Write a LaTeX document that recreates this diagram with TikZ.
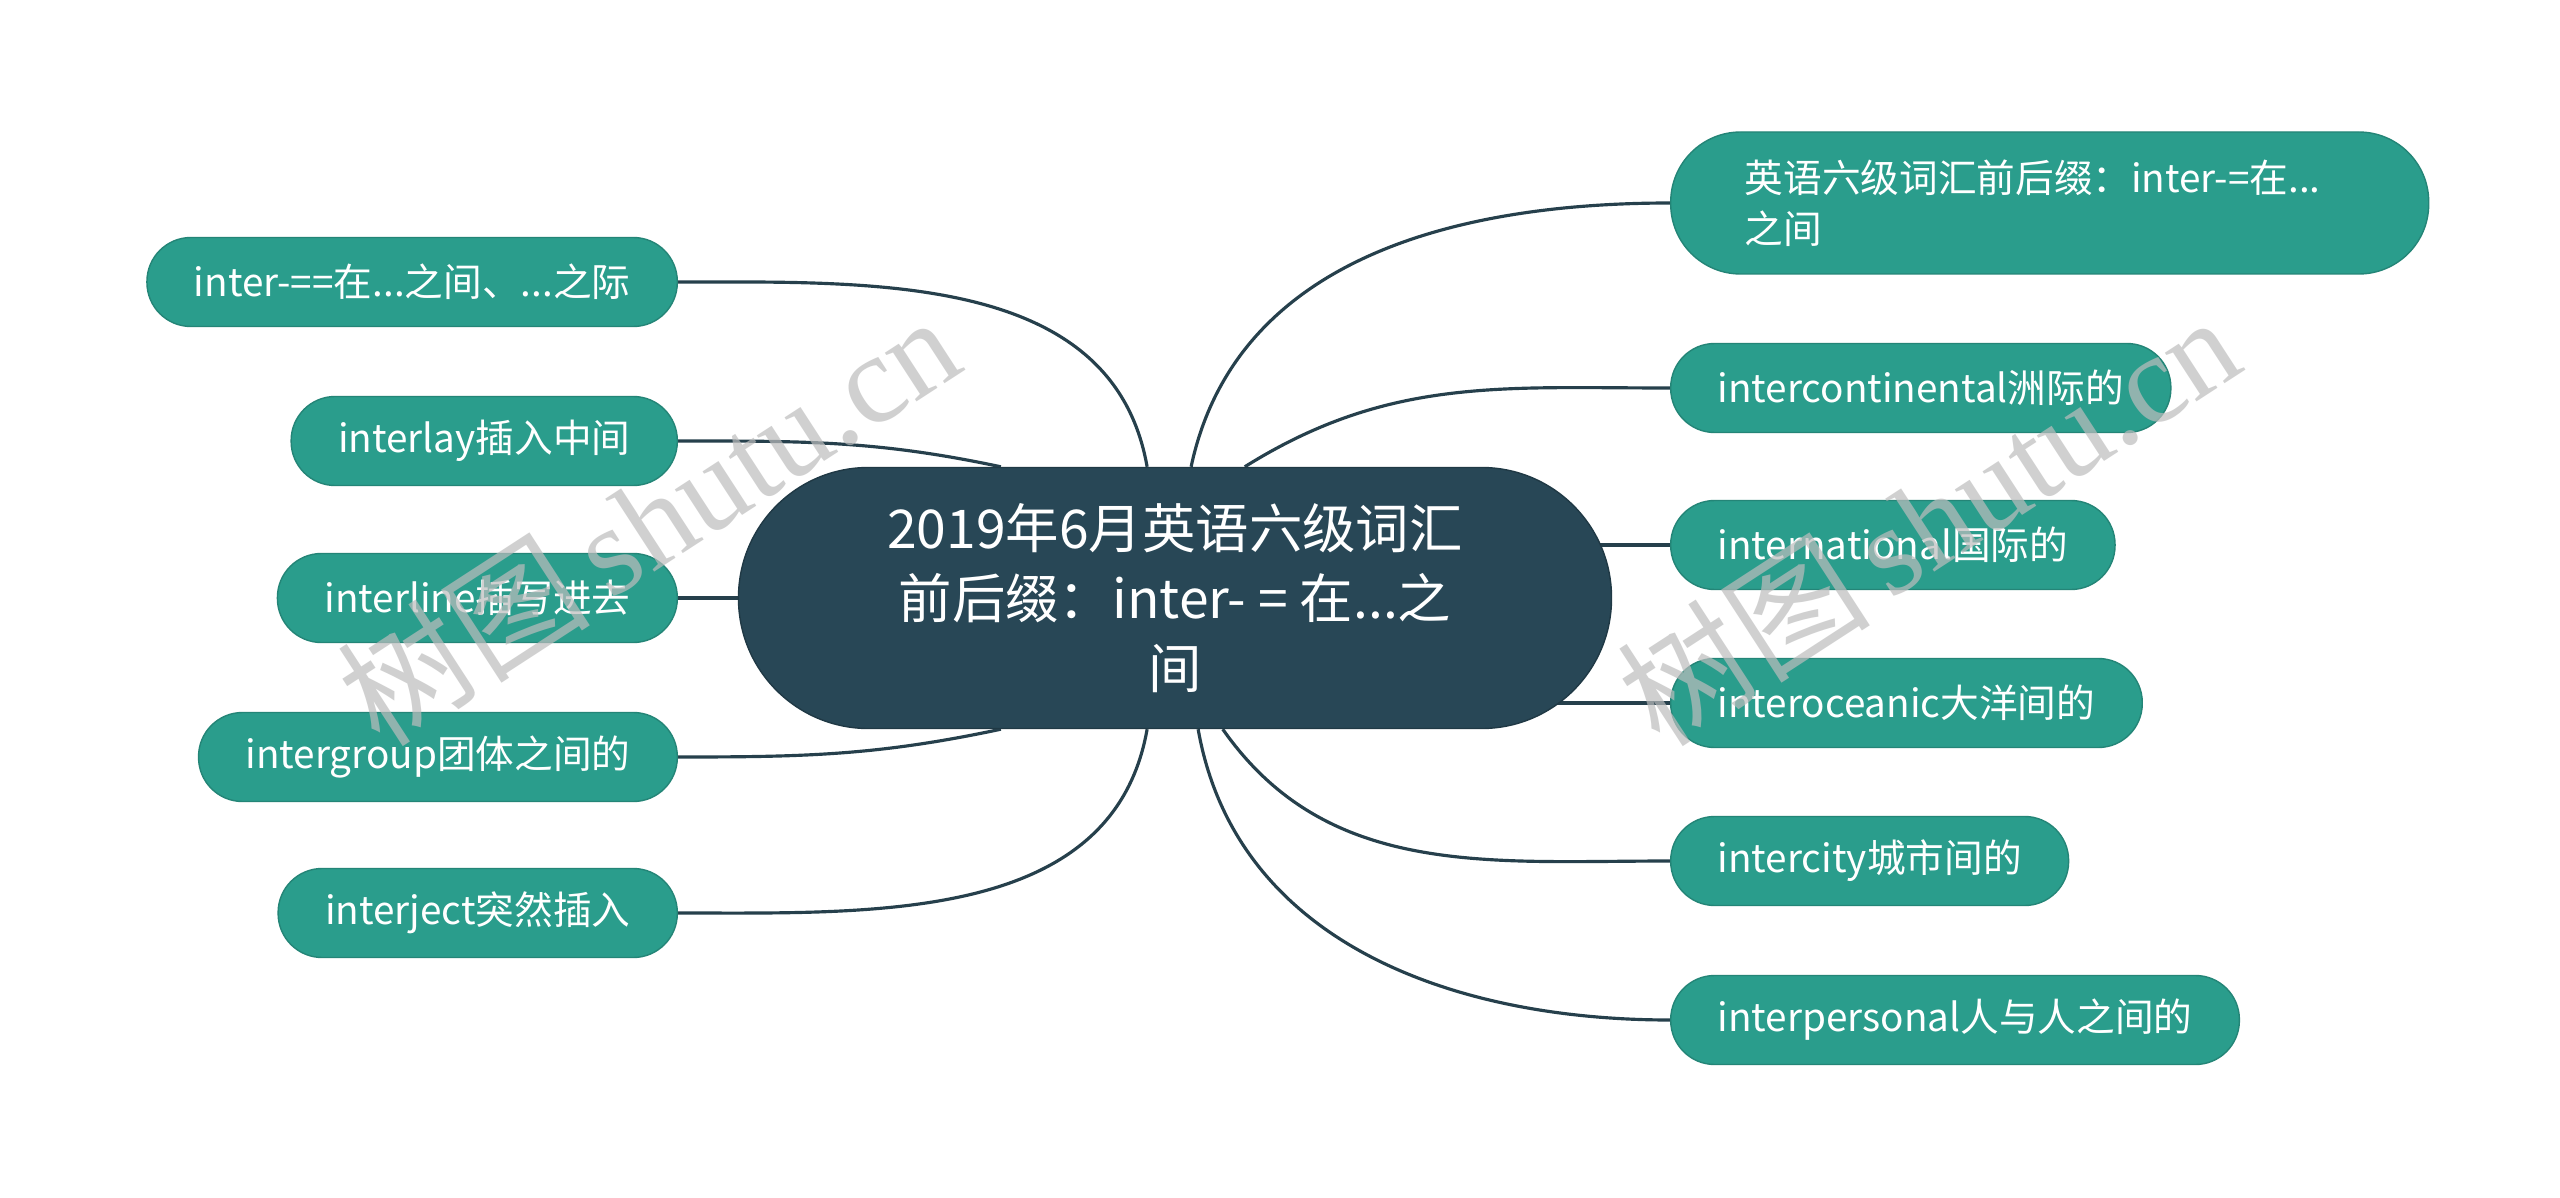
\documentclass[tikz,border=0pt]{standalone}
\usepackage{fontspec}
\setmainfont{Noto Sans CJK SC}
\newfontfamily\wmserif{Liberation Serif}
\usetikzlibrary{backgrounds}
\definecolor{mmteal}{HTML}{2A9D8C}
\definecolor{mmnavy}{HTML}{284756}
\definecolor{mmline}{HTML}{26404C}
\definecolor{mmwater}{HTML}{BDBDBD}

\begin{document}
\begin{tikzpicture}[
  x=1cm, y=1cm,
  font=\fontsize{11pt}{14.5pt}\selectfont,
  line cap=round,
  leaf/.style={rectangle, rounded corners=0.44cm, fill=mmteal, draw=mmteal!85!black,
    line width=0.4pt, text=white, minimum height=0.89cm, inner xsep=0.47cm, inner ysep=0pt},
  hub/.style={rectangle, rounded corners=1.3cm, fill=mmnavy, draw=mmnavy!80!black,
    line width=0.4pt, text=white, minimum width=8.73cm, minimum height=2.61cm,
    align=center, font=\fontsize{15.2pt}{20pt}\selectfont},
  link/.style={draw=mmline, line width=0.9pt},
  watermark/.style={text=mmwater, opacity=0.7, rotate=33, font=\fontsize{36pt}{36pt}\selectfont},
]
\useasboundingbox (0,0) rectangle (25.6,11.97);

% ---------- root ----------
\node[hub] (root) at (11.75,5.99) {2019年6月英语六级词汇\\前后缀：inter- = 在...之\\间};

% ---------- left branch ----------
\node[leaf, anchor=east] (between) at (6.78,9.15) {inter-==在...之间、...之际};
\node[leaf, anchor=east] (interlay) at (6.78,7.56) {interlay插入中间};
\node[leaf, anchor=east] (interline) at (6.78,5.99) {interline插写进去};
\node[leaf, anchor=east] (intergroup) at (6.78,4.40) {intergroup团体之间的};
\node[leaf, anchor=east] (interject) at (6.78,2.84) {interject突然插入};

% ---------- right branch ----------
\node[leaf, anchor=west, rounded corners=0.7cm, minimum height=1.42cm, inner xsep=0.74cm,
  text width=6.1cm, align=left] (title) at (16.70,9.94) {\mbox{英语六级词汇前后缀：inter-=在...}\\之间};
\node[leaf, anchor=west] (intercontinental) at (16.70,8.09) {intercontinental洲际的};
\node[leaf, anchor=west] (international) at (16.70,6.52) {international国际的};
\node[leaf, anchor=west] (interoceanic) at (16.70,4.94) {interoceanic大洋间的};
\node[leaf, anchor=west] (intercity) at (16.70,3.36) {intercity城市间的};
\node[leaf, anchor=west] (interpersonal) at (16.70,1.77) {interpersonal人与人之间的};

% ---------- links, behind the nodes ----------
\begin{scope}[on background layer]
  \fill[white] (0,0) rectangle (25.6,11.97);
  \draw[link] (root.102) to[out=100, in=0] (between.east);
  \draw[link] (root.143) to[out=168, in=0] (interlay.east);
  \draw[link] (root.center) -- (interline.east);
  \draw[link] (root.217) to[out=192, in=0] (intergroup.east);
  \draw[link] (root.258) to[out=260, in=0] (interject.east);

  \draw[link] (root.83) to[out=78, in=180] (title.west);
  \draw[link] (root.62) to[out=32, in=180] (intercontinental.west);
  \draw[link] (root.center |- international.west) -- (international.west);
  \draw[link] (root.center |- interoceanic.west) -- (interoceanic.west);
  \draw[link] (root.290) to[out=-55, in=180] (intercity.west);
  \draw[link] (root.280) to[out=-80, in=180] (interpersonal.west);
\end{scope}

% ---------- watermark ----------
\node[watermark] (wmleft) at (6.48,6.78) {树图\,{\wmserif shutu.cn}};
\node[watermark] (wmright) at (19.28,6.78) {树图\,{\wmserif shutu.cn}};
\end{tikzpicture}
\end{document}
